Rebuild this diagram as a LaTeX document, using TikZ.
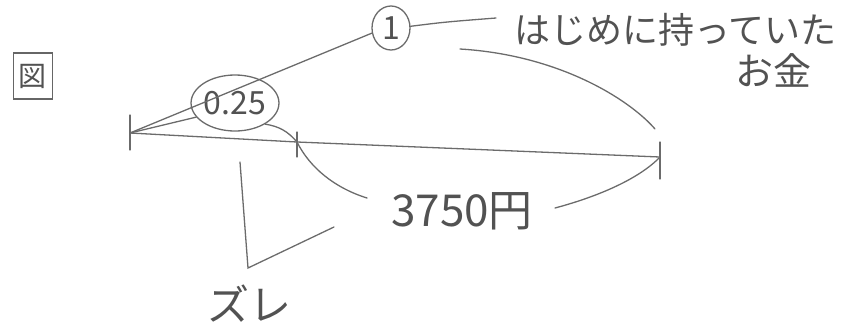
\documentclass[tikz,border=0pt]{standalone}
\usepackage{fontspec}
\newfontfamily\jpfont{Noto Sans CJK JP}
\usetikzlibrary{shapes.geometric}
\tikzset{
  pencil/.style={draw=black!58, line width=1.3pt, line cap=round},
  hand/.style={text=black!68, font=\jpfont\fontsize{#1}{#1}\selectfont, inner sep=0pt},
  hand/.default=34
}
\begin{document}
\begin{tikzpicture}[x=1pt,y=-1pt]
  \useasboundingbox (0,0) rectangle (854,325);
  \node[hand=28, draw=black!60, line width=1.2pt, minimum width=39pt, minimum height=46pt] (fig) at (33,76) {図};
  \node[hand=32, ellipse, pencil, minimum width=84pt, minimum height=56pt] (part) at (235,103) {0.25};
  \node[hand=32, ellipse, pencil, minimum width=38pt, minimum height=44pt] (whole) at (391,28) {1};
  \node[hand=36, anchor=west] (money) at (514,30) {はじめに持っていた};
  \node[hand=38] (money2) at (773,70) {お金};
  \node[hand=44] (diff) at (462,211) {3750円};
  \node[hand=42] (gap) at (249,304) {ズレ};
  \coordinate (L) at (130,133);
  \coordinate (M) at (297,142);
  \coordinate (R) at (660,157);
  \coordinate (Lt) at (130,115);
  \coordinate (Lb) at (130,150);
  \coordinate (Mt) at (297,132);
  \coordinate (Mb) at (297,157);
  \coordinate (Rt) at (660,142);
  \coordinate (Rb) at (660,179);
  \coordinate (t1) at (496,18);
  \coordinate (a1) at (460,49);
  \coordinate (a2) at (655,129);
  \coordinate (c1) at (367,198);
  \coordinate (c2) at (555,208);
  \coordinate (b1) at (240,162);
  \coordinate (b2) at (248,268);
  \coordinate (b3) at (334,227);
  \begin{scope}[pencil]
    \draw (L) -- (M) -- (R);
    \draw (Lt) -- (Lb);
    \draw (Mt) -- (Mb);
    \draw (Rt) -- (Rb);
    \draw (L) -- (whole.195);
    \draw (L) -- (part.200);
    \draw (part.-35) to[bend left=20] (M);
    \draw (whole.5) .. controls (445,22) .. (t1);
    \draw (a1) .. controls (560,55) and (630,100) .. (a2);
    \draw (M) .. controls (310,168) and (335,188) .. (c1);
    \draw (c2) .. controls (600,196) and (640,178) .. (R);
    \draw (b1) -- (b2) -- (b3);
  \end{scope}
\end{tikzpicture}
\end{document}
